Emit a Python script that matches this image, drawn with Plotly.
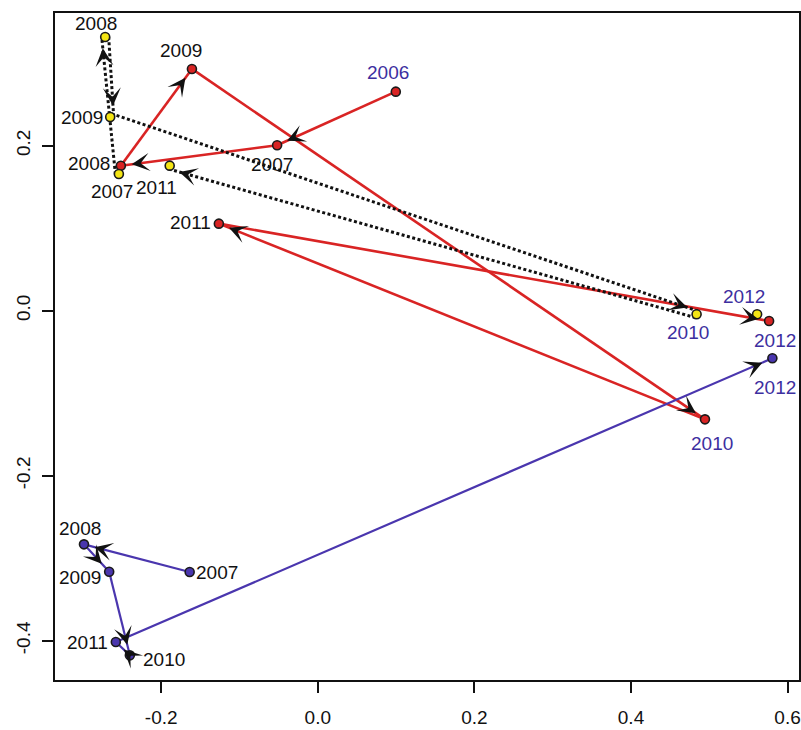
import math
import plotly.graph_objects as go

# ---- data: ordination scores per group and year ----
red_years = [2006, 2007, 2008, 2009, 2010, 2011, 2012]
red_x = [0.0996, -0.0520, -0.2516, -0.1608, 0.4945, -0.1264, 0.5764]
red_y = [0.2655, 0.2005, 0.1757, 0.2930, -0.1317, 0.1055, -0.0125]

yel_years = [2007, 2008, 2009, 2010, 2011, 2012]
yel_x = [-0.2541, -0.2716, -0.2652, 0.4838, -0.1892, 0.5611]
yel_y = [0.1657, 0.3317, 0.2348, -0.0044, 0.1758, -0.0044]

blue_years = [2007, 2008, 2009, 2010, 2011, 2012]
blue_x = [-0.1637, -0.2987, -0.2665, -0.2401, -0.2580, 0.5806]
blue_y = [-0.3167, -0.2832, -0.3164, -0.4177, -0.4016, -0.0577]

x_ticks = [-0.2, 0.0, 0.2, 0.4, 0.6]
y_ticks = [-0.4, -0.2, 0.0, 0.2]

# ---- styling ----
W, H = 801, 730
MARGIN = dict(l=55, r=0, t=13, b=50)
X_RANGE = [-0.3357, 0.6146]
Y_RANGE = [-0.4476, 0.3608]
FONT = "Liberation Sans, Arial, Helvetica, sans-serif"

RED = "#d92424"
BLUE = "#4a36ae"
YELLOW = "#f4e514"
LABEL_BLUE = "#3d2fa0"
BLACK = "#111111"

# label placement (pixel offset of label centre from its point) and colour
red_lab = [(-8, -19, LABEL_BLUE), (-5, 19, BLACK), (-32, -2, BLACK), (-11, -18, BLACK),
           (7, 24, LABEL_BLUE), (-28, -1, BLACK), (6, 19, LABEL_BLUE)]
yel_lab = [(-7, 18, BLACK), (-9, -14, BLACK), (-28, 1, BLACK), (-9, 18, LABEL_BLUE),
           (-13, 22, BLACK), (-13, -18, LABEL_BLUE)]
blue_lab = [(27, 0, BLACK), (-4, -16, BLACK), (-29, 6, BLACK), (34, 4, BLACK),
            (-28, 0, BLACK), (3, 29, LABEL_BLUE)]

px_x = (W - MARGIN["l"] - MARGIN["r"]) / (X_RANGE[1] - X_RANGE[0])
px_y = (H - MARGIN["t"] - MARGIN["b"]) / (Y_RANGE[1] - Y_RANGE[0])

ARROW_BACK = 11   # arrow tip stops this many px before the point
ARROW_SHAFT = 7   # short shaft so only the head shows


def path_segments(xs, ys, n_steps, offset=0.0):
    """Return line coordinates and arrow (tip, tail) pairs for consecutive steps."""
    lx, ly, arrows = [], [], []
    for i in range(n_steps):
        u0, v0 = xs[i] * px_x, -ys[i] * px_y
        u1, v1 = xs[i + 1] * px_x, -ys[i + 1] * px_y
        du, dv = u1 - u0, v1 - v0
        L = math.hypot(du, dv)
        eu, ev = du / L, dv / L
        nu, nv = ev, -eu  # left of travel direction on screen
        u0, v0 = u0 + nu * offset, v0 + nv * offset
        u1, v1 = u1 + nu * offset, v1 + nv * offset
        lx += [u0 / px_x, u1 / px_x, None]
        ly += [-v0 / px_y, -v1 / px_y, None]
        tu, tv = u1 - eu * ARROW_BACK, v1 - ev * ARROW_BACK
        su, sv = tu - eu * ARROW_SHAFT, tv - ev * ARROW_SHAFT
        arrows.append(((tu / px_x, -tv / px_y), (su / px_x, -sv / px_y)))
    return lx, ly, arrows


fig = go.Figure()

red_lx, red_ly, red_arr = path_segments(red_x, red_y, len(red_x) - 1)
# the yellow group has no step into its final year
yel_lx, yel_ly, yel_arr = path_segments(yel_x, yel_y, len(yel_x) - 2, offset=3.5)
blue_lx, blue_ly, blue_arr = path_segments(blue_x, blue_y, len(blue_x) - 1)

fig.add_trace(go.Scatter(x=red_lx, y=red_ly, mode="lines",
                         line=dict(color=RED, width=2.6), hoverinfo="skip"))
fig.add_trace(go.Scatter(x=yel_lx, y=yel_ly, mode="lines",
                         line=dict(color=BLACK, width=3, dash="3px,2.5px"), hoverinfo="skip"))
fig.add_trace(go.Scatter(x=blue_lx, y=blue_ly, mode="lines",
                         line=dict(color=BLUE, width=2.2), hoverinfo="skip"))

for xs, ys, fill in [(red_x, red_y, RED), (yel_x, yel_y, YELLOW), (blue_x, blue_y, BLUE)]:
    fig.add_trace(go.Scatter(x=xs, y=ys, mode="markers",
                             marker=dict(size=9, color=fill, line=dict(color="#1a1a1a", width=1.6)),
                             hoverinfo="skip"))

annotations = []
for arrs in (red_arr, yel_arr, blue_arr):
    for (tx, ty), (sx, sy) in arrs:
        annotations.append(dict(x=tx, y=ty, ax=sx, ay=sy, xref="x", yref="y",
                                axref="x", ayref="y", text="", showarrow=True,
                                arrowhead=3, arrowsize=1.5, arrowwidth=2,
                                arrowcolor=BLACK, standoff=0))

for years, xs, ys, labs in [(red_years, red_x, red_y, red_lab),
                            (yel_years, yel_x, yel_y, yel_lab),
                            (blue_years, blue_x, blue_y, blue_lab)]:
    for yr, x, y, (dx, dy, col) in zip(years, xs, ys, labs):
        annotations.append(dict(x=x, y=y, xref="x", yref="y", text=str(yr),
                                showarrow=False, xanchor="center", yanchor="middle",
                                xshift=dx, yshift=-dy,
                                font=dict(family=FONT, size=19, color=col)))

fig.update_layout(
    width=W, height=H, margin=MARGIN,
    paper_bgcolor="white", plot_bgcolor="white",
    showlegend=False, annotations=annotations,
    font=dict(family=FONT, color=BLACK),
)
fig.update_xaxes(range=X_RANGE, tickvals=x_ticks, ticktext=[f"{v:.1f}" for v in x_ticks],
                 showgrid=False, zeroline=False, showline=True, mirror=True,
                 linecolor=BLACK, linewidth=2, ticks="outside", ticklen=11, tickwidth=2,
                 tickcolor=BLACK, ticklabelstandoff=8,
                 tickfont=dict(family=FONT, size=19, color=BLACK))
fig.update_yaxes(range=Y_RANGE, tickvals=y_ticks, ticktext=[f"{v:.1f}" for v in y_ticks],
                 showgrid=False, zeroline=False, showline=True, mirror=True,
                 linecolor=BLACK, linewidth=2, ticks="outside", ticklen=11, tickwidth=2,
                 tickcolor=BLACK, tickangle=-90, ticklabelstandoff=4,
                 tickfont=dict(family=FONT, size=19, color=BLACK))

fig.write_html("out.html")
